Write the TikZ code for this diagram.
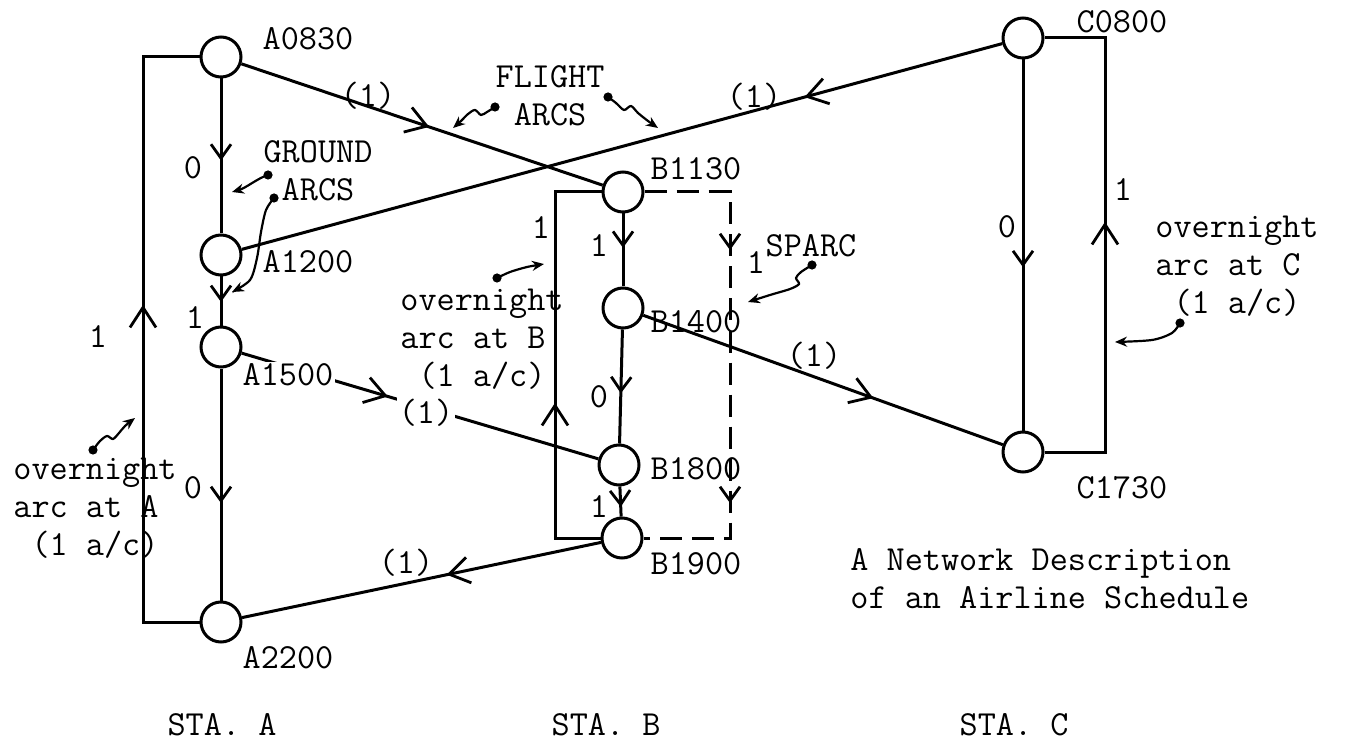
\documentclass[tikz,border=0pt]{standalone}
\usepackage{fontspec}
\usetikzlibrary{arrows.meta,decorations.markings}
\tikzset{
  BarbS/.tip={Straight Barb[length=7pt,width=10pt,line width=1.4pt]},
  BarbL/.tip={Straight Barb[length=10pt,width=13pt,line width=1.4pt]},
  stn/.style={circle,draw,line width=1.5pt,minimum size=20pt,inner sep=0pt},
  lbl/.style={inner sep=0pt,font=\ttfamily\addfontfeature{FakeBold=1.2}\fontsize{17.6pt}{19pt}\selectfont},
  wlbl/.style={lbl,fill=white,inner sep=1pt},
  edgeline/.style={line width=1.5pt,line join=miter},
  mS/.style={postaction={decorate},decoration={markings,mark=at position #1 with {\arrow{BarbS}}}},
  mL/.style={postaction={decorate},decoration={markings,mark=at position #1 with {\arrow{BarbL}}}},
  leader/.style={line width=1.1pt,-{Stealth[length=6pt,width=5pt]}},
  leaddot/.style={circle,fill,inner sep=0pt,minimum size=4.6pt},
}
\begin{document}
\begin{tikzpicture}[x=0.5pt,y=-0.5pt]
\fill[white] (0,0) rectangle (1347,748);
\useasboundingbox (0,0) rectangle (1347,748);

% station nodes
\node[stn] (a0830) at (221,57) {};
\node[stn] (a1200) at (221,255) {};
\node[stn] (a1500) at (221,347) {};
\node[stn] (a2200) at (221,622) {};
\node[stn] (b1130) at (623,192) {};
\node[stn] (b1400) at (623,308) {};
\node[stn] (b1800) at (619,465) {};
\node[stn] (b1900) at (622,538) {};
\node[stn] (c0800) at (1023,38) {};
\node[stn] (c1730) at (1023,452) {};

% corner coordinates
\coordinate (oa1) at (143,57);   \coordinate (oa2) at (143,622);
\coordinate (ob1) at (555,192);  \coordinate (ob2) at (555,538);
\coordinate (oc1) at (1105,38);  \coordinate (oc2) at (1105,452);
\coordinate (sp1) at (730,192);  \coordinate (sp2) at (730,538);

% ground arcs
\draw[edgeline,mS=0.53] (a0830) -- (a1200);
\draw[edgeline,mS=0.52] (a1200) -- (a1500);
\draw[edgeline,mS=0.58] (a1500) -- (a2200);
\draw[edgeline,mS=0.47] (b1130) -- (b1400);
\draw[edgeline,mS=0.56] (b1400) -- (b1800);
\draw[edgeline,mS=0.68] (b1800) -- (b1900);
\draw[edgeline,mS=0.56] (c0800) -- (c1730);

% flight arcs
\draw[edgeline,mL=0.52] (a0830) -- (b1130);
\draw[edgeline,mL=0.26] (c0800) -- (a1200);
\draw[edgeline,mL=0.41] (a1500) -- (b1800);
\draw[edgeline,mL=0.64] (b1400) -- (c1730);
\draw[edgeline,mL=0.43] (b1900) -- (a2200);

% overnight arcs
\draw[edgeline,mL=186.8pt] (a2200) -- (oa2) -- (oa1) -- (a0830);
\draw[edgeline,mL=90.3pt] (b1900) -- (ob2) -- (ob1) -- (b1130);
\draw[edgeline,mL=145.3pt] (c1730) -- (oc2) -- (oc1) -- (c0800);

% SPARC (dashed)
\draw[edgeline,dash pattern=on 11pt off 5pt,postaction={decorate},
  decoration={markings,mark=at position 71.8pt with {\arrow{BarbS}},
                       mark=at position 198.3pt with {\arrow{BarbS}}}]
  (b1130) -- (sp1) -- (sp2) -- (b1900);

% leaders
\node[leaddot] (d1) at (268,175) {};
\draw[leader] (d1.center) .. controls (258,178) and (246,188) .. (232,192);
\node[leaddot] (d2) at (274,198) {};
\draw[leader] plot[smooth] coordinates {(274,198) (266,210) (261,232) (257,258) (250,280) (232,292)};
\node[leaddot] (d3) at (495,107) {};
\draw[leader] plot[smooth] coordinates {(495,107) (487,112) (481,115) (475,110) (468,114) (461,121) (453,128)};
\node[leaddot] (d4) at (608,97) {};
\draw[leader] plot[smooth] coordinates {(608,97) (616,103) (624,110) (631,106) (638,113) (648,121) (658,128)};
\node[leaddot] (d5) at (497,278) {};
\draw[leader] plot[smooth] coordinates {(497,278) (510,272) (527,267) (544,264)};
\node[leaddot] (d6) at (812,265) {};
\draw[leader] plot[smooth] coordinates {(812,265) (801,272) (796,278) (799,284) (790,289) (770,295) (748,302)};
\node[leaddot] (d7) at (1180,323) {};
\draw[leader] plot[smooth] coordinates {(1180,323) (1172,333) (1152,340) (1115,342)};
\node[leaddot] (d8) at (93,450) {};
\draw[leader] plot[smooth] coordinates {(93,450) (100,441) (107,436) (113,439) (119,433) (125,426) (135,418)};

% node labels
\node[lbl] (la0830) at (308,39) {A0830};
\node[lbl] (la1200) at (308,262) {A1200};
\node[wlbl] (la1500) at (288,375) {A1500};
\node[lbl] (la2200) at (288,658) {A2200};
\node[lbl] (lb1130) at (696,169) {B1130};
\node[lbl] (lb1400) at (696,322) {B1400};
\node[lbl] (lb1800) at (696,469) {B1800};
\node[lbl] (lb1900) at (696,564) {B1900};
\node[lbl] (lc0800) at (1122,22) {C0800};
\node[lbl] (lc1730) at (1122,488) {C1730};

% flow values
\node[lbl] (n1) at (193,168) {0};
\node[lbl] (n2) at (195,318) {1};
\node[lbl] (n3) at (193,488) {0};
\node[lbl] (n4) at (98,337) {1};
\node[lbl] (n5) at (541,228) {1};
\node[lbl] (n6) at (599,246) {1};
\node[lbl] (n7) at (599,397) {0};
\node[lbl] (n8) at (599,507) {1};
\node[lbl] (n9) at (756,263) {1};
\node[lbl] (n10) at (1007,227) {0};
\node[lbl] (n11) at (1123,190) {1};

\node[lbl] (f1) at (368,96) {(1)};
\node[lbl] (f2) at (754,97) {(1)};
\node[wlbl] (f3) at (426,413) {(1)};
\node[lbl] (f4) at (814,356) {(1)};
\node[lbl] (f5) at (406,563) {(1)};

% annotations
\node[lbl,align=center] (tground) at (318,171) {GROUND\\ARCS};
\node[lbl,align=center] (tflight) at (550,96) {FLIGHT\\ARCS};
\node[lbl] (tsparc) at (811,246) {SPARC};
\node[lbl,align=left,anchor=west] (ona) at (13,508) {overnight\\arc at A\\~(1 a/c)};
\node[lbl,align=left,anchor=west] (onb) at (400,339) {overnight\\arc at B\\~(1 a/c)};
\node[lbl,align=left,anchor=west] (onc) at (1155,266) {overnight\\arc at C\\~(1 a/c)};
\node[lbl,align=left,anchor=west] (title) at (850,579) {A Network Description\\of an Airline Schedule};

\node[lbl] (sta) at (222,725) {STA. A};
\node[lbl] (stb) at (606,725) {STA. B};
\node[lbl] (stc) at (1014,725) {STA. C};
\end{tikzpicture}
\end{document}
